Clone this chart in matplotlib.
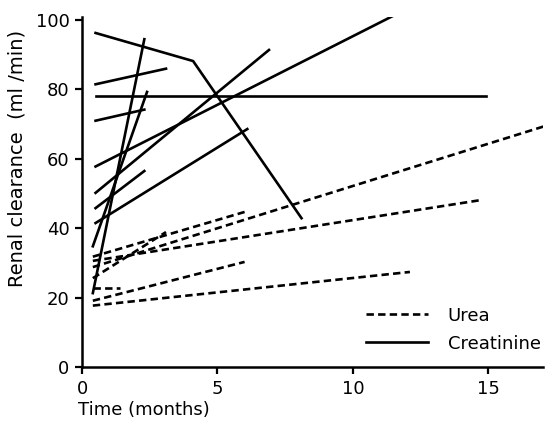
import matplotlib
matplotlib.use('Agg')
import matplotlib.pyplot as plt

# --- data (time in months, clearance in ml/min) ---
# creatinine (solid lines)
creat_t = [
    [0.5, 4.1, 8.1],
    [0.5, 14.9],
    [0.5, 3.1],
    [0.5, 2.3],
    [0.5, 11.8],
    [0.5, 6.9],
    [0.5, 2.3],
    [0.5, 6.1],
    [0.4, 2.3],
    [0.4, 2.4],
]
creat_v = [
    [96.3, 88.2, 42.9],
    [78.0, 78.0],
    [81.5, 86.0],
    [71.0, 74.2],
    [57.8, 102.5],
    [50.2, 91.4],
    [45.8, 56.5],
    [41.5, 68.6],
    [21.3, 94.5],
    [34.8, 79.3],
]

# urea (dashed lines)
urea_t = [
    [0.4, 17.1],
    [0.4, 14.7],
    [0.4, 6.0],
    [0.4, 3.1],
    [0.4, 1.4],
    [0.4, 6.0],
    [0.4, 12.1],
]
urea_v = [
    [28.8, 69.5],
    [30.6, 48.1],
    [31.8, 44.7],
    [25.6, 38.9],
    [22.8, 22.8],
    [19.1, 30.3],
    [17.7, 27.4],
]

x_ticks = [0, 5, 10, 15]
y_ticks = [0, 20, 40, 60, 80, 100]

plt.rcParams['font.family'] = ['DejaVu Sans']

fig = plt.figure(figsize=(5.49, 4.21), dpi=100)
ax = fig.add_axes([82 / 549, 54 / 421, 460.7 / 549, 350 / 421])

lw = 1.9
dash = (0, (2.8, 1.6))
for t, v in zip(urea_t, urea_v):
    ax.plot(t, v, color='black', lw=lw, ls=dash, dash_capstyle='butt')
for t, v in zip(creat_t, creat_v):
    ax.plot(t, v, color='black', lw=lw)

# legend handles
ax.plot([], [], color='black', lw=lw, ls=dash, label='Urea')
ax.plot([], [], color='black', lw=lw, label='Creatinine')
ax.legend(loc='upper left', bbox_to_anchor=(0.617, 0.172), frameon=False,
          fontsize=13, handlelength=3.4, handletextpad=1.1, labelspacing=0.55,
          borderpad=0, borderaxespad=0)

ax.set_xlim(0, 17)
ax.set_ylim(0, 100.9)
ax.set_xticks(x_ticks)
ax.set_yticks(y_ticks)
ax.tick_params(labelsize=13, length=5, width=1.6, pad=4)
for s in ['top', 'right']:
    ax.spines[s].set_visible(False)
for s in ['left', 'bottom']:
    ax.spines[s].set_linewidth(1.8)

ax.set_xlabel('Time (months)', fontsize=13)
ax.xaxis.set_label_coords(0.135, -0.096)
ax.set_ylabel('Renal clearance  (ml /min)', fontsize=14)
ax.yaxis.set_label_coords(-0.12, 0.595)

fig.savefig('out.png', dpi=100)
